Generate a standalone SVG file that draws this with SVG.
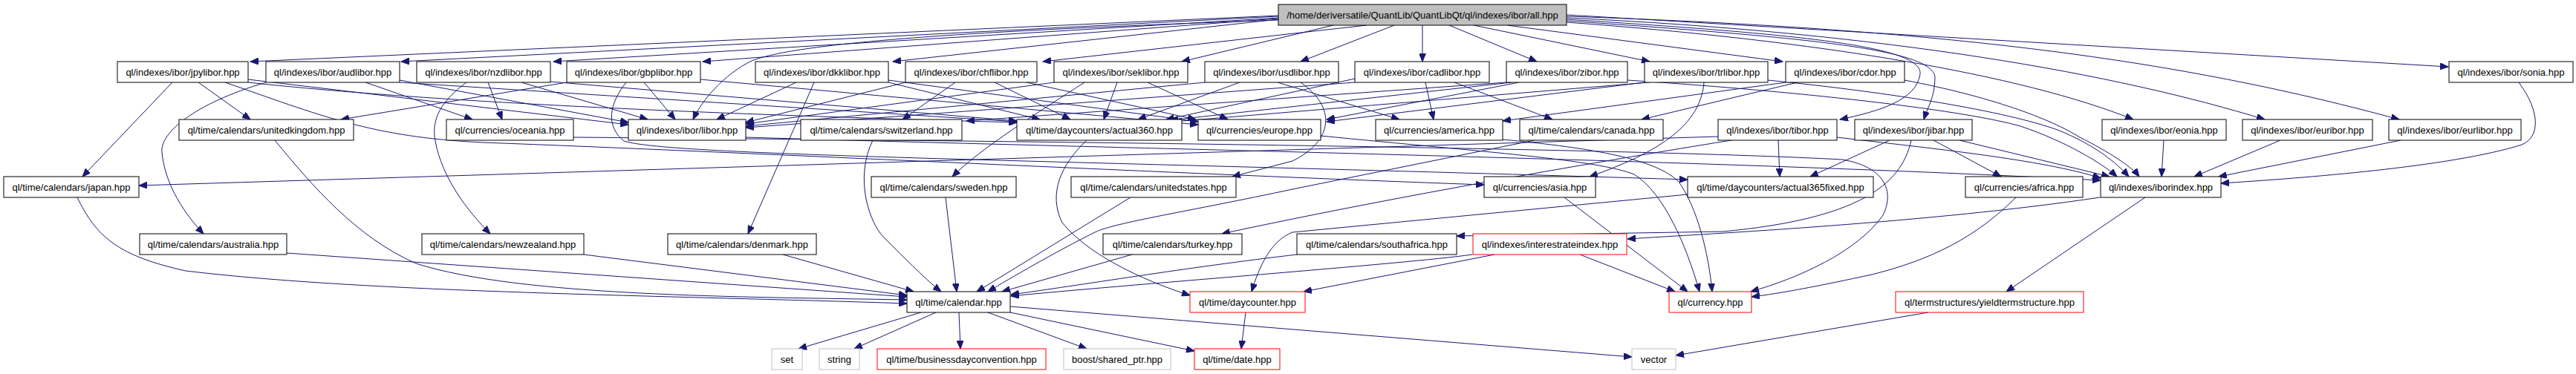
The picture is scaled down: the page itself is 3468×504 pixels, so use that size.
<svg xmlns="http://www.w3.org/2000/svg" width="3468" height="504" viewBox="0 0 3468 504">
<defs>
<style>
.node rect{fill:#fff;stroke:#000;stroke-width:1}
.node rect.top{fill:#bfbfbf}
.node rect.red{stroke:#f00}
.node rect.grey{stroke:#bfbfbf}
.node text{font-family:"Liberation Sans",Arial,sans-serif;font-size:13px;fill:#000;text-anchor:middle}
.edges path{fill:none;stroke:#191970;stroke-width:1;marker-end:url(#arr)}
</style>
<marker id="arr" markerUnits="userSpaceOnUse" markerWidth="12" markerHeight="9" refX="11" refY="4.5" orient="auto"><path d="M0,0 L11,4.5 L0,9 z" fill="#191970" stroke="#191970" stroke-width="1"/></marker>
</defs>
<rect width="3468" height="504" fill="#fff"/>
<g class="edges">
<path d="M1721,21 L337,83"/>
<path d="M1721,22 L540,83"/>
<path d="M1721,24 L745,83"/>
<path d="M1721,25 L946,83"/>
<path d="M1721,27 C1350,40 1080,55 1012,82 C975,100 945,135 933,161"/>
<path d="M1721,26 L1202,83"/>
<path d="M1840,34 L1404,83"/>
<path d="M1795,34 L1591,83"/>
<path d="M1877,34 L1751,83"/>
<path d="M1915,34 L1915,83"/>
<path d="M1951,34 L2069,83"/>
<path d="M1984,34 L2221,83"/>
<path d="M2029,34 L2400,83"/>
<path d="M2109,26 C2400,45 2590,60 2585,100 C2580,135 2530,150 2477,161"/>
<path d="M2109,28 C2420,50 2605,65 2605,105 C2605,130 2595,145 2590,161"/>
<path d="M2109,30 C2450,55 2720,100 2872,161"/>
<path d="M2109,24 C2550,45 2850,100 3049,161"/>
<path d="M2109,22 C2650,40 2950,85 3230,161"/>
<path d="M2109,20 L3296,90"/>
<path d="M232,111 L111,238"/>
<path d="M267,111 L337,161"/>
<path d="M303,111 C430,155 500,185 650,192 C1000,205 1600,235 1998,249"/>
<path d="M334,107 L846,168"/>
<path d="M334,111 C600,140 1000,155 1369,165"/>
<path d="M358,111 C260,140 215,180 218,205 C222,250 250,290 274,315"/>
<path d="M492,111 L636,161"/>
<path d="M538,108 L846,165"/>
<path d="M538,111 L1369,164"/>
<path d="M628,111 C595,135 580,160 586,190 C595,240 630,285 660,315"/>
<path d="M657,111 L676,161"/>
<path d="M702,111 L872,161"/>
<path d="M741,110 L1369,163"/>
<path d="M763,111 L459,161"/>
<path d="M867,111 L909,161"/>
<path d="M943,107 L1613,168"/>
<path d="M843,111 C820,140 815,170 840,190 C900,210 1400,215 2272,242"/>
<path d="M1072,111 L965,161"/>
<path d="M1096,111 L1007,315"/>
<path d="M1196,108 L1613,164"/>
<path d="M1196,111 L1400,161"/>
<path d="M1219,111 L1004,165"/>
<path d="M1286,111 L1215,161"/>
<path d="M1339,111 L1441,161"/>
<path d="M1382,111 L1610,161"/>
<path d="M1419,111 L1004,167"/>
<path d="M1460,111 C1400,150 1320,200 1282,238"/>
<path d="M1504,111 L1486,161"/>
<path d="M1545,111 L1653,161"/>
<path d="M1622,111 L1004,170"/>
<path d="M1669,111 L1532,161"/>
<path d="M1720,111 L1884,161"/>
<path d="M1751,111 C1800,145 1795,190 1740,217 L1659,238"/>
<path d="M1824,111 L1004,172"/>
<path d="M1919,111 L1930,161"/>
<path d="M1958,111 L2090,161"/>
<path d="M1824,106 L1570,161"/>
<path d="M2028,111 L1301,163"/>
<path d="M2035,111 L1575,162"/>
<path d="M2045,111 L1786,161"/>
<path d="M2191,108 C2450,125 2650,150 2720,170 C2780,190 2830,220 2850,238"/>
<path d="M2214,111 L1786,164"/>
<path d="M2220,111 L1580,164"/>
<path d="M2294,111 C2290,160 2250,200 2140,238"/>
<path d="M2380,108 C2550,125 2700,150 2770,175 C2820,195 2850,220 2866,238"/>
<path d="M2404,111 L2023,163"/>
<path d="M2420,111 L2210,161"/>
<path d="M2564,108 C2680,130 2760,160 2800,185 C2840,205 2870,225 2880,238"/>
<path d="M2313,184 L187,250"/>
<path d="M2337,188 C2200,210 1900,260 1645,315"/>
<path d="M2394,188 L2396,238"/>
<path d="M2473,185 C2600,200 2750,215 2828,240"/>
<path d="M2544,189 L2437,238"/>
<path d="M2603,189 L2694,238"/>
<path d="M2638,189 L2840,238"/>
<path d="M2573,189 C2560,250 2500,295 2320,312 L1961,318"/>
<path d="M2913,189 L2910,238"/>
<path d="M3070,189 L2954,238"/>
<path d="M3232,189 L2987,238"/>
<path d="M3391,111 C3420,150 3420,185 3395,195 C3300,225 3100,240 2990,247"/>
<path d="M1004,185 C1500,200 2300,215 2828,243"/>
<path d="M2827,266 C2600,300 2300,315 2191,322"/>
<path d="M2888,266 L2701,393"/>
<path d="M1982,343 C1900,355 1500,385 1361,399"/>
<path d="M2012,343 L1755,393"/>
<path d="M2127,343 L2255,393"/>
<path d="M370,189 C420,250 480,320 560,355 C700,400 1000,400 1221,404"/>
<path d="M104,266 C130,320 160,345 250,365 C500,395 900,398 1221,409"/>
<path d="M386,341 L1221,400"/>
<path d="M786,343 L1221,398"/>
<path d="M1054,343 L1230,393"/>
<path d="M1175,189 C1150,240 1170,300 1190,320 C1220,350 1250,380 1267,393"/>
<path d="M1273,266 L1288,393"/>
<path d="M1522,266 L1315,393"/>
<path d="M2066,189 L1740,255 C1600,285 1500,300 1474,313 C1420,340 1360,375 1330,393"/>
<path d="M1524,343 L1349,393"/>
<path d="M1746,343 C1600,360 1450,385 1361,397"/>
<path d="M1463,189 C1430,220 1410,260 1430,300 C1470,350 1560,385 1602,398"/>
<path d="M2272,262 L1740,313 C1710,325 1695,360 1685,393"/>
<path d="M772,185 C1400,190 2200,200 2480,215 C2540,225 2550,260 2535,290 C2500,340 2420,375 2357,393"/>
<path d="M1778,183 C2000,205 2150,215 2200,235 C2240,260 2270,330 2288,393"/>
<path d="M2023,188 C2150,200 2230,215 2260,245 C2285,280 2300,340 2305,393"/>
<path d="M2106,266 L2272,393"/>
<path d="M2714,266 C2660,320 2600,350 2520,370 C2450,385 2400,395 2358,400"/>
<path d="M1240,421 L1075,470"/>
<path d="M1260,421 L1150,470"/>
<path d="M1291,421 L1293,470"/>
<path d="M1330,421 L1463,470"/>
<path d="M1360,421 L1608,473"/>
<path d="M1360,413 L2197,481"/>
<path d="M1677,421 L1671,470"/>
<path d="M2596,421 L2256,479"/>
</g>
<g id="n_all" class="node"><rect class="top" x="1721" y="6" width="388" height="28"/><text x="1915" y="25">/home/deriversatile/QuantLib/QuantLibQt/ql/indexes/ibor/all.hpp</text></g>
<g id="n_jpylibor" class="node"><rect x="158" y="83" width="176" height="28"/><text x="246" y="102">ql/indexes/ibor/jpylibor.hpp</text></g>
<g id="n_audlibor" class="node"><rect x="358" y="83" width="180" height="28"/><text x="448" y="102">ql/indexes/ibor/audlibor.hpp</text></g>
<g id="n_nzdlibor" class="node"><rect x="561" y="83" width="180" height="28"/><text x="651" y="102">ql/indexes/ibor/nzdlibor.hpp</text></g>
<g id="n_gbplibor" class="node"><rect x="763" y="83" width="180" height="28"/><text x="853" y="102">ql/indexes/ibor/gbplibor.hpp</text></g>
<g id="n_dkklibor" class="node"><rect x="1017" y="83" width="179" height="28"/><text x="1106.5" y="102">ql/indexes/ibor/dkklibor.hpp</text></g>
<g id="n_chflibor" class="node"><rect x="1219" y="83" width="177" height="28"/><text x="1307.5" y="102">ql/indexes/ibor/chflibor.hpp</text></g>
<g id="n_seklibor" class="node"><rect x="1419" y="83" width="180" height="28"/><text x="1509" y="102">ql/indexes/ibor/seklibor.hpp</text></g>
<g id="n_usdlibor" class="node"><rect x="1622" y="83" width="180" height="28"/><text x="1712" y="102">ql/indexes/ibor/usdlibor.hpp</text></g>
<g id="n_cadlibor" class="node"><rect x="1824" y="83" width="181" height="28"/><text x="1914.5" y="102">ql/indexes/ibor/cadlibor.hpp</text></g>
<g id="n_zibor" class="node"><rect x="2028" y="83" width="163" height="28"/><text x="2109.5" y="102">ql/indexes/ibor/zibor.hpp</text></g>
<g id="n_trlibor" class="node"><rect x="2214" y="83" width="166" height="28"/><text x="2297" y="102">ql/indexes/ibor/trlibor.hpp</text></g>
<g id="n_cdor" class="node"><rect x="2404" y="83" width="160" height="28"/><text x="2484" y="102">ql/indexes/ibor/cdor.hpp</text></g>
<g id="n_sonia" class="node"><rect x="3297" y="83" width="167" height="28"/><text x="3380.5" y="102">ql/indexes/ibor/sonia.hpp</text></g>
<g id="n_unitedkingdom" class="node"><rect x="241" y="161" width="235" height="28"/><text x="358.5" y="180">ql/time/calendars/unitedkingdom.hpp</text></g>
<g id="n_oceania" class="node"><rect x="601" y="161" width="171" height="28"/><text x="686.5" y="180">ql/currencies/oceania.hpp</text></g>
<g id="n_libor" class="node"><rect x="846" y="161" width="158" height="28"/><text x="925" y="180">ql/indexes/ibor/libor.hpp</text></g>
<g id="n_switzerland" class="node"><rect x="1078" y="161" width="217" height="28"/><text x="1186.5" y="180">ql/time/calendars/switzerland.hpp</text></g>
<g id="n_actual360" class="node"><rect x="1369" y="161" width="222" height="28"/><text x="1480" y="180">ql/time/daycounters/actual360.hpp</text></g>
<g id="n_europe" class="node"><rect x="1613" y="161" width="165" height="28"/><text x="1695.5" y="180">ql/currencies/europe.hpp</text></g>
<g id="n_america" class="node"><rect x="1852" y="161" width="171" height="28"/><text x="1937.5" y="180">ql/currencies/america.hpp</text></g>
<g id="n_canada" class="node"><rect x="2046" y="161" width="193" height="28"/><text x="2142.5" y="180">ql/time/calendars/canada.hpp</text></g>
<g id="n_tibor" class="node"><rect x="2313" y="161" width="160" height="28"/><text x="2393" y="180">ql/indexes/ibor/tibor.hpp</text></g>
<g id="n_jibar" class="node"><rect x="2497" y="161" width="158" height="28"/><text x="2576" y="180">ql/indexes/ibor/jibar.hpp</text></g>
<g id="n_eonia" class="node"><rect x="2830" y="161" width="167" height="28"/><text x="2913.5" y="180">ql/indexes/ibor/eonia.hpp</text></g>
<g id="n_euribor" class="node"><rect x="3019" y="161" width="175" height="28"/><text x="3106.5" y="180">ql/indexes/ibor/euribor.hpp</text></g>
<g id="n_eurlibor" class="node"><rect x="3216" y="161" width="178" height="28"/><text x="3305" y="180">ql/indexes/ibor/eurlibor.hpp</text></g>
<g id="n_japan" class="node"><rect x="5" y="238" width="182" height="28"/><text x="96" y="257">ql/time/calendars/japan.hpp</text></g>
<g id="n_sweden" class="node"><rect x="1173" y="238" width="195" height="28"/><text x="1270.5" y="257">ql/time/calendars/sweden.hpp</text></g>
<g id="n_unitedstates" class="node"><rect x="1442" y="238" width="222" height="28"/><text x="1553" y="257">ql/time/calendars/unitedstates.hpp</text></g>
<g id="n_asia" class="node"><rect x="1998" y="238" width="150" height="28"/><text x="2073" y="257">ql/currencies/asia.hpp</text></g>
<g id="n_actual365fixed" class="node"><rect x="2272" y="238" width="250" height="28"/><text x="2397" y="257">ql/time/daycounters/actual365fixed.hpp</text></g>
<g id="n_africa" class="node"><rect x="2646" y="238" width="158" height="28"/><text x="2725" y="257">ql/currencies/africa.hpp</text></g>
<g id="n_iborindex" class="node"><rect x="2828" y="238" width="162" height="28"/><text x="2909" y="257">ql/indexes/iborindex.hpp</text></g>
<g id="n_australia" class="node"><rect x="188" y="315" width="198" height="28"/><text x="287" y="334">ql/time/calendars/australia.hpp</text></g>
<g id="n_newzealand" class="node"><rect x="568" y="315" width="218" height="28"/><text x="677" y="334">ql/time/calendars/newzealand.hpp</text></g>
<g id="n_denmark" class="node"><rect x="899" y="315" width="200" height="28"/><text x="999" y="334">ql/time/calendars/denmark.hpp</text></g>
<g id="n_turkey" class="node"><rect x="1485" y="315" width="187" height="28"/><text x="1578.5" y="334">ql/time/calendars/turkey.hpp</text></g>
<g id="n_southafrica" class="node"><rect x="1746" y="315" width="215" height="28"/><text x="1853.5" y="334">ql/time/calendars/southafrica.hpp</text></g>
<g id="n_interestrateindex" class="node"><rect class="red" x="1983" y="315" width="207" height="28"/><text x="2086.5" y="334">ql/indexes/interestrateindex.hpp</text></g>
<g id="n_calendar" class="node"><rect x="1221" y="393" width="139" height="28"/><text x="1290.5" y="412">ql/time/calendar.hpp</text></g>
<g id="n_daycounter" class="node"><rect class="red" x="1602" y="393" width="155" height="28"/><text x="1679.5" y="412">ql/time/daycounter.hpp</text></g>
<g id="n_currency" class="node"><rect class="red" x="2247" y="393" width="111" height="28"/><text x="2302.5" y="412">ql/currency.hpp</text></g>
<g id="n_yieldtermstructure" class="node"><rect class="red" x="2552" y="393" width="253" height="28"/><text x="2678.5" y="412">ql/termstructures/yieldtermstructure.hpp</text></g>
<g id="n_set" class="node"><rect class="grey" x="1039" y="470" width="41" height="28"/><text x="1059.5" y="489">set</text></g>
<g id="n_string" class="node"><rect class="grey" x="1103" y="470" width="54" height="28"/><text x="1130" y="489">string</text></g>
<g id="n_businessdayconvention" class="node"><rect class="red" x="1181" y="470" width="227" height="28"/><text x="1294.5" y="489">ql/time/businessdayconvention.hpp</text></g>
<g id="n_shared_ptr" class="node"><rect class="grey" x="1432" y="470" width="144" height="28"/><text x="1504" y="489">boost/shared_ptr.hpp</text></g>
<g id="n_date" class="node"><rect class="red" x="1608" y="470" width="115" height="28"/><text x="1665.5" y="489">ql/time/date.hpp</text></g>
<g id="n_vector" class="node"><rect class="grey" x="2197" y="470" width="59" height="28"/><text x="2226.5" y="489">vector</text></g>
</svg>
